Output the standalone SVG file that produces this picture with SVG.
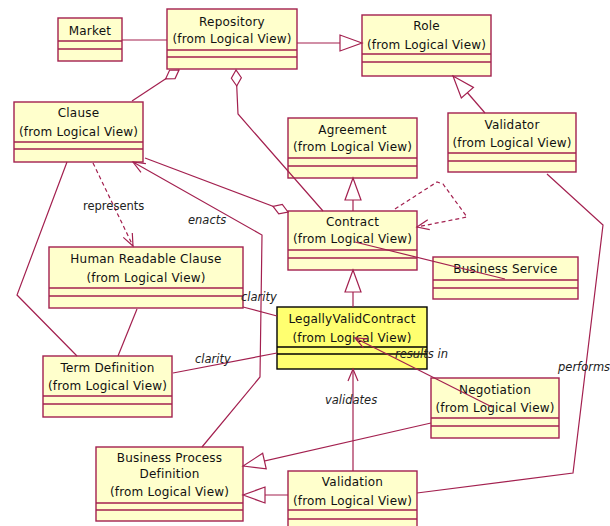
<svg xmlns="http://www.w3.org/2000/svg" width="610" height="526" viewBox="0 0 610 526">
<style>
.box{fill:#ffffcc;stroke:#a3204f;stroke-width:1.4}
.lvc{fill:#ffff70;stroke:#000;stroke-width:1.4}
.sep{stroke:#a3204f;stroke-width:1.4}
.sepk{stroke:#000;stroke-width:1.4}
.t{font-family:"DejaVu Sans",sans-serif;font-size:12px;fill:#111;text-anchor:middle;letter-spacing:0.2px}
.c{fill:none;stroke:#a3204f;stroke-width:1.2}
.d{stroke-dasharray:4 3}
.lb{font-family:"DejaVu Sans",sans-serif;font-size:11.5px;fill:#222}
.it{font-style:italic}
</style>
<defs>
<marker id="gen" markerUnits="userSpaceOnUse" viewBox="-24 -10 26 20" markerWidth="26" markerHeight="20" refX="0" refY="0" orient="auto">
<path d="M0,0 L-22,-8 L-22,8 Z" fill="#fff" stroke="#a3204f" stroke-width="1.2"/>
</marker>
<marker id="arr" markerUnits="userSpaceOnUse" viewBox="-14 -7 16 14" markerWidth="16" markerHeight="14" refX="0" refY="0" orient="auto">
<path d="M-12,-5 L0,0 L-12,5" fill="none" stroke="#a3204f" stroke-width="1.2"/>
</marker>
<marker id="dia" markerUnits="userSpaceOnUse" viewBox="-18 -7 20 14" markerWidth="20" markerHeight="14" refX="0" refY="0" orient="auto">
<path d="M0,0 L-8,-5 L-16,0 L-8,5 Z" fill="#fff" stroke="#a3204f" stroke-width="1.2"/>
</marker>
</defs>
<rect width="610" height="526" fill="#fff"/>
<g id="market">
<rect class="box" x="58" y="18" width="64" height="43"/>
<line class="sep" x1="58" y1="41" x2="122" y2="41"/><line class="sep" x1="58" y1="49" x2="122" y2="49"/>
<text class="t" x="90" y="35">Market</text>
</g>
<g id="repository">
<rect class="box" x="167" y="9" width="130" height="60"/>
<line class="sep" x1="167" y1="50" x2="297" y2="50"/><line class="sep" x1="167" y1="57" x2="297" y2="57"/>
<text class="t" x="232" y="26">Repository</text>
<text class="t" x="232" y="43">(from Logical View)</text>
</g>
<g id="role">
<rect class="box" x="362" y="15" width="129" height="61"/>
<line class="sep" x1="362" y1="54" x2="491" y2="54"/><line class="sep" x1="362" y1="62" x2="491" y2="62"/>
<text class="t" x="426.500" y="30">Role</text>
<text class="t" x="426.500" y="49">(from Logical View)</text>
</g>
<g id="clause">
<rect class="box" x="14" y="102" width="129" height="60"/>
<line class="sep" x1="14" y1="142" x2="143" y2="142"/><line class="sep" x1="14" y1="149" x2="143" y2="149"/>
<text class="t" x="78.500" y="117">Clause</text>
<text class="t" x="78.500" y="136">(from Logical View)</text>
</g>
<g id="agreement">
<rect class="box" x="288" y="118" width="129" height="60"/>
<line class="sep" x1="288" y1="158" x2="417" y2="158"/><line class="sep" x1="288" y1="166" x2="417" y2="166"/>
<text class="t" x="352.500" y="134">Agreement</text>
<text class="t" x="352.500" y="151">(from Logical View)</text>
</g>
<g id="validator">
<rect class="box" x="448" y="113" width="128" height="59"/>
<line class="sep" x1="448" y1="153" x2="576" y2="153"/><line class="sep" x1="448" y1="161" x2="576" y2="161"/>
<text class="t" x="512" y="129">Validator</text>
<text class="t" x="512" y="147">(from Logical View)</text>
</g>
<g id="contract">
<rect class="box" x="288" y="211" width="129" height="59"/>
<line class="sep" x1="288" y1="250" x2="417" y2="250"/><line class="sep" x1="288" y1="258" x2="417" y2="258"/>
<text class="t" x="352.500" y="226">Contract</text>
<text class="t" x="352.500" y="243">(from Logical View)</text>
</g>
<g id="business-service">
<rect class="box" x="433" y="257" width="145" height="42"/>
<line class="sep" x1="433" y1="280" x2="578" y2="280"/><line class="sep" x1="433" y1="288" x2="578" y2="288"/>
<text class="t" x="505.500" y="273">Business Service</text>
</g>
<g id="human-readable-clause">
<rect class="box" x="49" y="247" width="194" height="61"/>
<line class="sep" x1="49" y1="288" x2="243" y2="288"/><line class="sep" x1="49" y1="296" x2="243" y2="296"/>
<text class="t" x="146" y="263">Human Readable Clause</text>
<text class="t" x="146" y="282">(from Logical View)</text>
</g>
<g id="legally-valid-contract">
<rect class="lvc" x="277" y="307" width="150" height="62"/>
<line class="sepk" x1="277" y1="347" x2="427" y2="347"/><line class="sepk" x1="277" y1="354" x2="427" y2="354"/>
<text class="t" x="352" y="323">LegallyValidContract</text>
<text class="t" x="352" y="342">(from Logical View)</text>
</g>
<g id="term-definition">
<rect class="box" x="43" y="356" width="129" height="61"/>
<line class="sep" x1="43" y1="396" x2="172" y2="396"/><line class="sep" x1="43" y1="404" x2="172" y2="404"/>
<text class="t" x="107.500" y="372">Term Definition</text>
<text class="t" x="107.500" y="390">(from Logical View)</text>
</g>
<g id="negotiation">
<rect class="box" x="431" y="378" width="128" height="60"/>
<line class="sep" x1="431" y1="418" x2="559" y2="418"/><line class="sep" x1="431" y1="426" x2="559" y2="426"/>
<text class="t" x="495" y="394">Negotiation</text>
<text class="t" x="495" y="412">(from Logical View)</text>
</g>
<g id="business-process-definition">
<rect class="box" x="96" y="447" width="147" height="74"/>
<line class="sep" x1="96" y1="503" x2="243" y2="503"/><line class="sep" x1="96" y1="510" x2="243" y2="510"/>
<text class="t" x="169.500" y="462">Business Process</text>
<text class="t" x="169.500" y="478">Definition</text>
<text class="t" x="169.500" y="496">(from Logical View)</text>
</g>
<g id="validation">
<rect class="box" x="288" y="471" width="129" height="60"/>
<line class="sep" x1="288" y1="510" x2="417" y2="510"/><line class="sep" x1="288" y1="519" x2="417" y2="519"/>
<text class="t" x="352.500" y="486">Validation</text>
<text class="t" x="352.500" y="505">(from Logical View)</text>
</g>
<g id="connectors">
<path class="c" d="M122,40 H167"/>
<path class="c" d="M297,43 H362" marker-end="url(#gen)"/>
<path class="c" d="M132,101 L179,70" marker-end="url(#dia)"/>
<path class="c" d="M323,211 L238,114 L236,70" marker-end="url(#dia)"/>
<path class="c" d="M145,158 L288,212" marker-end="url(#dia)"/>
<path class="c" d="M353,211 V178" marker-end="url(#gen)"/>
<path class="c d" d="M395,209 L437,182 L443,184 L467,217 L417,227" marker-end="url(#arr)"/>
<path class="c" d="M355,242 L505,279"/>
<path class="c" d="M353,307 V270" marker-end="url(#gen)"/>
<path class="c" d="M485,113 L453,76" marker-end="url(#gen)"/>
<path class="c" d="M547,174 L603,225 L573,473 L417,493"/>
<path class="c" d="M67,162 L17,295 L77,356"/>
<path class="c d" d="M93,163 L133,246" marker-end="url(#arr)"/>
<path class="c" d="M202,447 L260,377 L262,235 L133,162" marker-end="url(#arr)"/>
<path class="c" d="M137,309 L118,356"/>
<path class="c" d="M243,307 L277,316"/>
<path class="c" d="M173,373 L277,353"/>
<path class="c" d="M492,407 L355,338" marker-end="url(#arr)"/>
<path class="c" d="M353,471 V369" marker-end="url(#arr)"/>
<path class="c" d="M431,423 L243,466" marker-end="url(#gen)"/>
<path class="c" d="M288,495 H243" marker-end="url(#gen)"/>
<text class="lb" x="83" y="210">represents</text>
<text class="lb it" x="188" y="224">enacts</text>
<text class="lb it" x="241" y="301">clarity</text>
<text class="lb it" x="195" y="363">clarity</text>
<text class="lb it" x="395" y="358">results in</text>
<text class="lb it" x="325" y="404">validates</text>
<text class="lb it" x="558" y="371">performs</text>
</g>
</svg>
